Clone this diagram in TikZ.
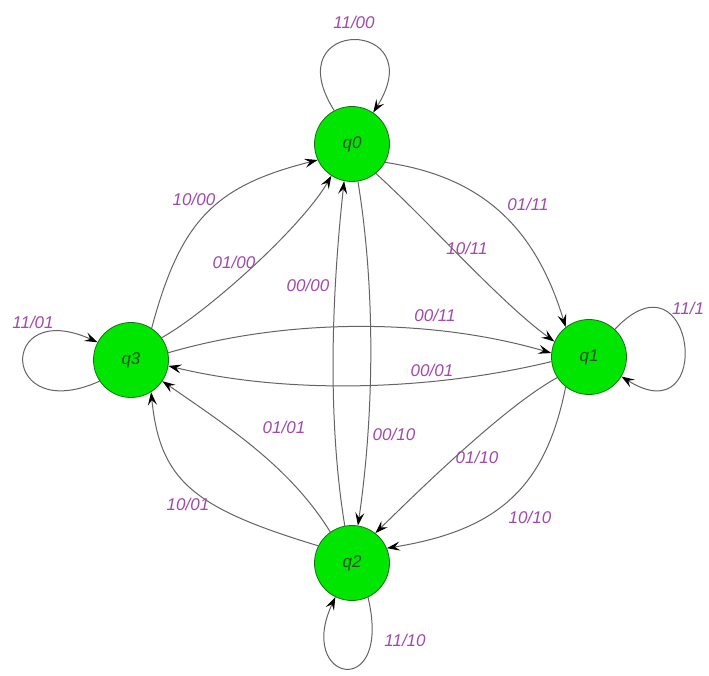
\documentclass[tikz,border=0pt]{standalone}
\usepackage{fontspec}
\setmainfont{Liberation Sans}
\usetikzlibrary{arrows.meta}
\definecolor{stategreen}{RGB}{0,230,0}
\definecolor{stateborder}{RGB}{20,110,20}
\definecolor{lblpurple}{RGB}{160,75,170}
\definecolor{conngray}{RGB}{100,100,100}
\definecolor{qtext}{RGB}{40,80,40}
\begin{document}
\begin{tikzpicture}[x=1pt,y=1pt,
  state/.style={circle, fill=stategreen, draw=stateborder, line width=0.8pt,
    minimum size=75pt, inner sep=0pt, text=qtext,
    font=\fontsize{17}{20}\selectfont\itshape},
  lbl/.style={text=lblpurple, inner sep=0pt,
    font=\fontsize{17}{20}\selectfont\itshape},
  conn/.style={draw=conngray, line width=1pt,
    -{Stealth[length=13pt,width=9pt,inset=5pt,color=black]}}]
\useasboundingbox (0,0) rectangle (709,675);
\fill[white] (0,0) rectangle (709,675);

\node[state] (q0) at (352,531) {q0};
\node[state] (q1) at (589,318) {q1};
\node[state] (q2) at (352,112) {q2};
\node[state] (q3) at (131,315) {q3};

% self loops
\draw[conn] (q0.118) .. controls +(-60,95) and +(60,95) .. (q0.56);
\draw[conn] (q3.214) .. controls +(-100,-45) and +(-100,45) .. (q3.152);
\draw[conn] (q1.47) .. controls +(80,85) and +(95,-60) .. (q1.-31);
\draw[conn] (q2.-65) .. controls +(25,-105) and +(-40,-85) .. (q2.-116);

% q3 -> q0
\draw[conn] (q3.57) .. controls +(29,108) and +(-103,-26) .. (q0.205);
\draw[conn] (q3.36) .. controls +(45,25) and +(-30,-52) .. (q0.237);
% q2 <-> q0
\draw[conn] (q2.101) .. controls +(-18,110) and +(-12,-110) .. (q0.258);
\draw[conn] (q0.-81) .. controls +(18,-110) and +(16,110) .. (q2.81);
% q0 -> q1
\draw[conn] (q0.-29) .. controls +(95,-14) and +(-31,102) .. (q1.128);
\draw[conn] (q0.-51) .. controls +(55,-50) and +(-55,40) .. (q1.156);
% q3 <-> q1
\draw[conn] (q3.11) .. controls +(120,35) and +(-120,35) .. (q1.174);
\draw[conn] (q1.187) .. controls +(-120,-29) and +(120,-29) .. (q3.-9);
% q1 -> q2
\draw[conn] (q1.213) .. controls +(-53,-29) and +(43,42) .. (q2.52);
\draw[conn] (q1.232) .. controls +(-20,-100) and +(112,18) .. (q2.23);
% q2 -> q3
\draw[conn] (q2.125) .. controls +(-40,65) and +(65,-45) .. (q3.-34);
\draw[conn] (q2.153) .. controls +(-126,38) and +(9,-88) .. (q3.-58);

% labels
\node[lbl] (l1) at (354,653) {11/00};
\node[lbl] (l2) at (33,353) {11/01};
\node[lbl, anchor=west] (l3) at (672,367) {11/1};
\node[lbl] (l4) at (405,35) {11/10};
\node[lbl] (l5) at (194,476) {10/00};
\node[lbl] (l6) at (234,413) {01/00};
\node[lbl] (l7) at (308,390) {00/00};
\node[lbl] (l8) at (528,471) {01/11};
\node[lbl] (l9) at (467,427) {10/11};
\node[lbl] (l10) at (435,360) {00/11};
\node[lbl] (l11) at (432,305) {00/01};
\node[lbl] (l12) at (394,241) {00/10};
\node[lbl] (l13) at (477,218) {01/10};
\node[lbl] (l14) at (530,158) {10/10};
\node[lbl] (l15) at (284,248) {01/01};
\node[lbl] (l16) at (188,171) {10/01};
\end{tikzpicture}
\end{document}
